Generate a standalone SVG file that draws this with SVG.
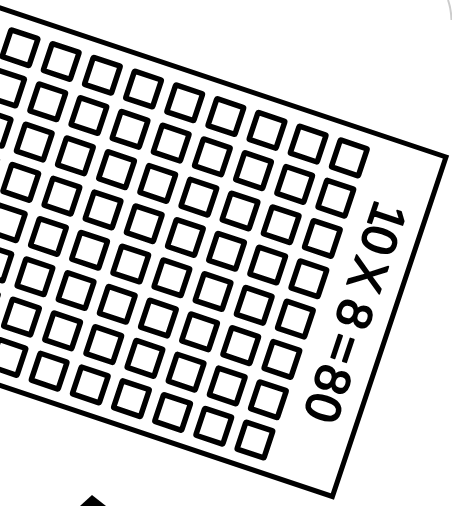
<svg xmlns="http://www.w3.org/2000/svg" xmlns:xlink="http://www.w3.org/1999/xlink" width="452" height="506" viewBox="0 0 452 506">
  <style>
    .edge { fill: none; stroke: #000; stroke-width: 5; stroke-linejoin: miter; }
    .cell { fill: #fff; stroke: #000; stroke-width: 5.5; stroke-linejoin: round; }
    .label { font-family: "Liberation Sans Narrow", "Liberation Sans", Arial, sans-serif; font-size: 49px; font-weight: normal; fill: #000; stroke: #000; stroke-width: 1.8; stroke-linejoin: round; }
  </style>
  <defs>
    <rect id="cell" class="cell" x="-14.2" y="-14.2" width="28.4" height="28.4" rx="1"/>
    <g id="row">
      <use xlink:href="#cell" href="#cell" x="-91.4"/>
      <use xlink:href="#cell" href="#cell" x="-134.8"/>
      <use xlink:href="#cell" href="#cell" x="-178.2"/>
      <use xlink:href="#cell" href="#cell" x="-221.6"/>
      <use xlink:href="#cell" href="#cell" x="-265"/>
      <use xlink:href="#cell" href="#cell" x="-308.4"/>
      <use xlink:href="#cell" href="#cell" x="-351.8"/>
      <use xlink:href="#cell" href="#cell" x="-395.2"/>
      <use xlink:href="#cell" href="#cell" x="-438.6"/>
      <use xlink:href="#cell" href="#cell" x="-482"/>
    </g>
  </defs>
  <rect x="0" y="0" width="452" height="506" fill="#fff"/>

  <g id="sheet" transform="translate(446 157) rotate(18.5)">
    <rect class="edge" x="-800" y="0" width="800" height="358"/>
    <g id="grid">
      <use xlink:href="#row" href="#row" y="31.5"/>
      <use xlink:href="#row" href="#row" y="74"/>
      <use xlink:href="#row" href="#row" y="116.5"/>
      <use xlink:href="#row" href="#row" y="159"/>
      <use xlink:href="#row" href="#row" y="201.5"/>
      <use xlink:href="#row" href="#row" y="244"/>
      <use xlink:href="#row" href="#row" y="286.5"/>
      <use xlink:href="#row" href="#row" y="329"/>
    </g>
    <g id="label" transform="rotate(90)">
      <text class="label" x="75.3 100.2 118 136.6 157 178.1 196 214.3 231 247.3 276.7" y="53.5" text-anchor="middle">10 X 8 = 80</text>
    </g>
  </g>

  <g id="fragments">
    <path d="M80 506 L92 495 L106 506 Z" fill="#000"/>
    <path d="M448 0 Q451 8 451.5 20" fill="none" stroke="#999" stroke-width="2" opacity="0.5"/>
  </g>
</svg>
